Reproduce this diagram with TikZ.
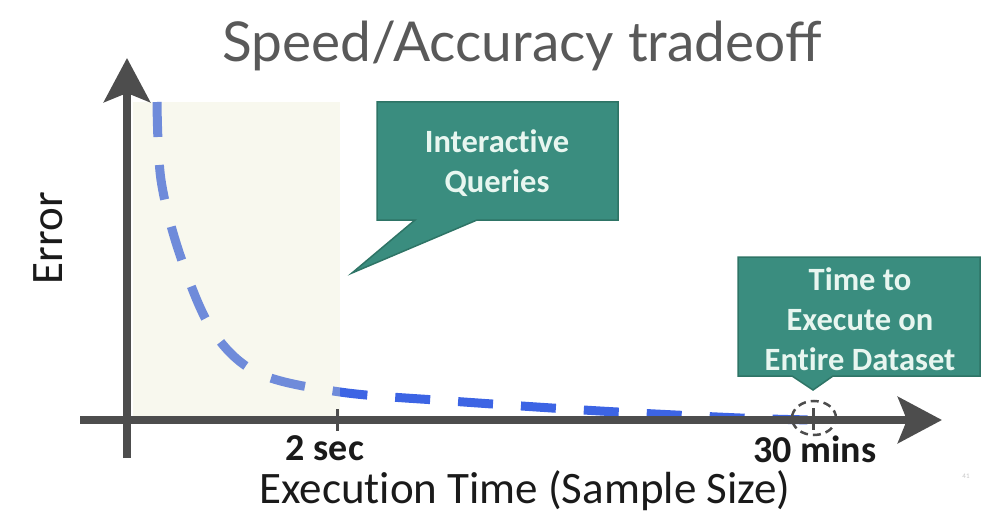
\documentclass[tikz,border=0pt]{standalone}
\usepackage{fontspec}
\setmainfont{Carlito}[Ligatures={NoCommon,NoRare}]
\newfontfamily\titlefont{Lato}
\usetikzlibrary{arrows.meta}

\definecolor{axisgray}{HTML}{4D4D4D}
\definecolor{titlegray}{HTML}{595959}
\definecolor{curveblue}{HTML}{3C64E4}
\definecolor{shadebase}{RGB}{232,232,198}
\definecolor{calloutfill}{HTML}{3A8D7F}
\definecolor{calloutedge}{HTML}{2E7466}
\definecolor{mint}{HTML}{E8F6F0}
\definecolor{textblack}{HTML}{1A1A1A}

\begin{document}
\begin{tikzpicture}[x=1pt,y=-1pt,
  axis/.style={draw=axisgray,line width=8pt,
    -{Stealth[length=44pt,width=46pt,inset=9pt]}},
  tickmark/.style={draw=axisgray,line width=3pt},
  errcurve/.style={draw=curveblue,line width=9pt,
    dash pattern=on 35pt off 28pt},
  callout/.style={fill=calloutfill,draw=calloutedge,line width=1.5pt,line join=miter},
  callouttext/.style={text=mint,align=center,
    font=\bfseries\fontsize{32.5}{40}\selectfont},
  ticklabel/.style={text=textblack,anchor=base,
    font=\bfseries\fontsize{38}{44}\selectfont},
  axislabel/.style={text=textblack,font=\fontsize{45}{50}\selectfont}]
\useasboundingbox (0,0) rectangle (990,513);

% title
\node[anchor=base,text=titlegray,font=\titlefont\fontsize{55}{60}\selectfont]
  (title) at (522,62) {Speed/Accuracy tradeoff};

% error curve (drawn first so the shaded band tints it)
\draw[errcurve] plot[smooth,tension=0.55] coordinates
  {(157,102) (161,180) (180,255) (212,330) (258,373) (340,392)
   (450,401) (600,411) (740,418) (813,420)};

% interactive band
\fill[shadebase,fill opacity=0.3] (133,102) rectangle (340,416);

% axes
\coordinate (ybot) at (127,458);
\coordinate (ytop) at (127,58);
\coordinate (xleft) at (80,420);
\coordinate (xright) at (942,420);
\draw[axis] (ybot) -- (ytop);
\draw[axis] (xleft) -- (xright);

% ticks
\coordinate (t2a) at (337,409);
\coordinate (t2b) at (337,431);
\coordinate (t30a) at (813,408);
\coordinate (t30b) at (813,430);
\draw[tickmark] (t2a) -- (t2b);
\draw[tickmark] (t30a) -- (t30b);

% highlight around the full-run point
\draw[axisgray,line width=2.5pt,dash pattern=on 8pt off 5pt]
  (814,418) ellipse [x radius=22pt,y radius=17pt];

% tick labels
\node[ticklabel] (l2) at (325,460) {2 sec};
\node[ticklabel] (l30) at (815,462) {30 mins};

% axis labels
\node[axislabel,anchor=base] (xlab) at (525,503) {Execution Time (Sample Size)};
\node[axislabel,rotate=90] (ylab) at (48,238) {Error};

% callout: interactive queries
\draw[callout] (377,102) -- (618,102) -- (618,220) -- (477,220)
  -- (352,273) -- (415,220) -- (377,220) -- cycle;
\node[callouttext] (c1) at (497,163) {Interactive\\Queries};

% callout: full dataset
\draw[callout] (738,257) -- (980,257) -- (980,376) -- (833,376)
  -- (813,390) -- (792,376) -- (738,376) -- cycle;
\node[callouttext] (c2) at (860,319) {Time to\\Execute on\\Entire Dataset};

% slide number
\node[text=black!22,font=\fontsize{7}{8}\selectfont] (pg) at (966,476) {41};
\end{tikzpicture}
\end{document}
